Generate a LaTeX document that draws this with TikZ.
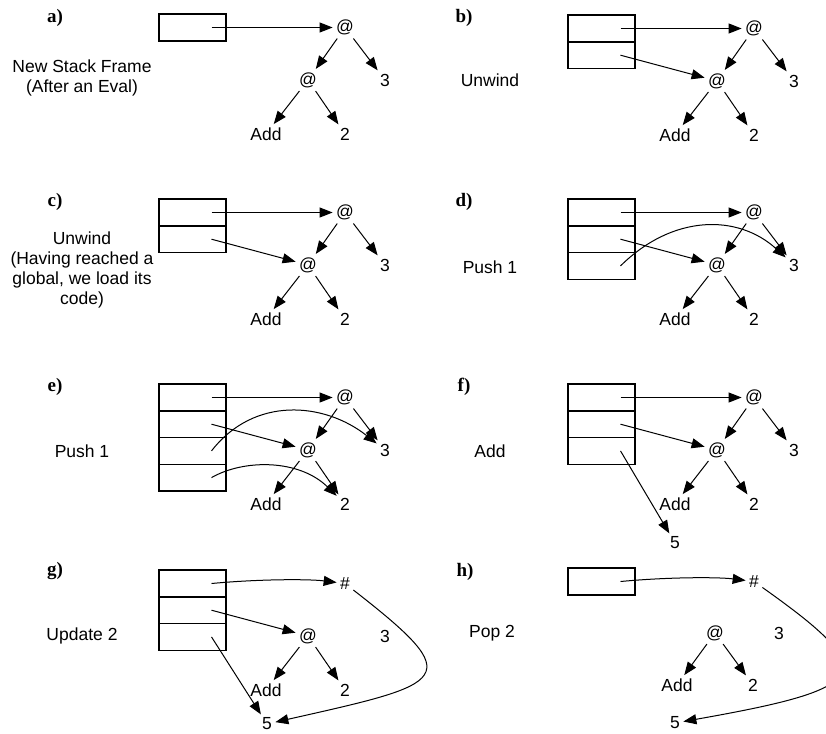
\documentclass[tikz,border=0pt]{standalone}
\usepackage{fontspec}
\setmainfont{Liberation Sans}
\newfontfamily\tagfont{Liberation Serif}
\usetikzlibrary{arrows.meta}

\begin{document}
\begin{tikzpicture}[x=1pt,y=-1pt,line width=1pt,
  >={Triangle[length=13pt,width=10pt]},
  every node/.style={font=\fontsize{17.5}{19.7}\selectfont,inner sep=3pt},
  cell/.style={draw,line width=1.5pt,minimum width=67pt,minimum height=26.7pt,inner sep=0pt},
  tag/.style={font=\tagfont\bfseries\fontsize{19}{22}\selectfont}]
\useasboundingbox (0,0) rectangle (826,733);

% a) one frame
\begin{scope}[shift={(159,14)}]
\node[tag] (a-tag) at (-104,4) {a)};
\node[align=center] (a-text) at (-77,64) {New Stack Frame\\(After an Eval)};
\node[cell] (a1) at (33.5,13.5) {};
\node (a-ap) at (186,13.5) {@};
\node (a-ap2) at (149,66) {@};
\node (a-3) at (226,66) {3};
\node (a-add) at (107,120) {Add};
\node (a-2) at (186,120) {2};
\draw[->] ([xshift=19pt]a1.center) -- (a-ap);
\draw[->] (a-ap) -- (a-ap2);
\draw[->] (a-ap) -- (a-3);
\draw[->] (a-ap2) -- (a-add);
\draw[->] (a-ap2) -- (a-2);
\end{scope}

% b) unwind
\begin{scope}[shift={(568,15)}]
\node[tag] (b-tag) at (-104,3) {b)};
\node (b-text) at (-78,65) {Unwind};
\node[cell] (b1) at (33.5,13.5) {};
\node[cell] (b2) at (33.5,40.2) {};
\node (b-ap) at (186,13.5) {@};
\node (b-ap2) at (149,66) {@};
\node (b-3) at (226,66) {3};
\node (b-add) at (107,120) {Add};
\node (b-2) at (186,120) {2};
\draw[->] ([xshift=19pt]b1.center) -- (b-ap);
\draw[->] ([xshift=19pt]b2.center) -- (b-ap2);
\draw[->] (b-ap) -- (b-ap2);
\draw[->] (b-ap) -- (b-3);
\draw[->] (b-ap2) -- (b-add);
\draw[->] (b-ap2) -- (b-2);
\end{scope}

% c) unwind, global reached
\begin{scope}[shift={(159,199)}]
\node[tag] (c-tag) at (-104,3) {c)};
\node[align=center] (c-text) at (-77,71) {Unwind\\(Having reached a\\global, we load its\\code)};
\node[cell] (c1) at (33.5,13.5) {};
\node[cell] (c2) at (33.5,40.2) {};
\node (c-ap) at (186,13.5) {@};
\node (c-ap2) at (149,66) {@};
\node (c-3) at (226,66) {3};
\node (c-add) at (107,120) {Add};
\node (c-2) at (186,120) {2};
\draw[->] ([xshift=19pt]c1.center) -- (c-ap);
\draw[->] ([xshift=19pt]c2.center) -- (c-ap2);
\draw[->] (c-ap) -- (c-ap2);
\draw[->] (c-ap) -- (c-3);
\draw[->] (c-ap2) -- (c-add);
\draw[->] (c-ap2) -- (c-2);
\end{scope}

% d) push 1
\begin{scope}[shift={(568,199)}]
\node[tag] (d-tag) at (-104,3) {d)};
\node (d-text) at (-78,68) {Push 1};
\node[cell] (d1) at (33.5,13.5) {};
\node[cell] (d2) at (33.5,40.2) {};
\node[cell] (d3) at (33.5,66.9) {};
\node (d-ap) at (186,13.5) {@};
\node (d-ap2) at (149,66) {@};
\node (d-3) at (226,66) {3};
\node (d-add) at (107,120) {Add};
\node (d-2) at (186,120) {2};
\draw[->] ([xshift=19pt]d1.center) -- (d-ap);
\draw[->] ([xshift=19pt]d2.center) -- (d-ap2);
\draw[->] ([xshift=19pt]d3.center) .. controls (105,15) and (170,15) .. (d-3);
\draw[->] (d-ap) -- (d-ap2);
\draw[->] (d-ap) -- (d-3);
\draw[->] (d-ap2) -- (d-add);
\draw[->] (d-ap2) -- (d-2);
\end{scope}

% e) push 1 again
\begin{scope}[shift={(159,384)}]
\node[tag] (e-tag) at (-104,3) {e)};
\node (e-text) at (-77,67) {Push 1};
\node[cell] (e1) at (33.5,13.5) {};
\node[cell] (e2) at (33.5,40.2) {};
\node[cell] (e3) at (33.5,66.9) {};
\node[cell] (e4) at (33.5,93.6) {};
\node (e-ap) at (186,13.5) {@};
\node (e-ap2) at (149,66) {@};
\node (e-3) at (226,66) {3};
\node (e-add) at (107,120) {Add};
\node (e-2) at (186,120) {2};
\draw[->] ([xshift=19pt]e1.center) -- (e-ap);
\draw[->] ([xshift=19pt]e2.center) -- (e-ap2);
\draw[->] ([xshift=19pt]e3.center) .. controls (95,12) and (165,18) .. (e-3);
\draw[->] ([xshift=19pt]e4.center) .. controls (85,75) and (140,75) .. (e-2);
\draw[->] (e-ap) -- (e-ap2);
\draw[->] (e-ap) -- (e-3);
\draw[->] (e-ap2) -- (e-add);
\draw[->] (e-ap2) -- (e-2);
\end{scope}

% f) add
\begin{scope}[shift={(568,384)}]
\node[tag] (f-tag) at (-104,3) {f)};
\node (f-text) at (-78,67) {Add};
\node[cell] (f1) at (33.5,13.5) {};
\node[cell] (f2) at (33.5,40.2) {};
\node[cell] (f3) at (33.5,66.9) {};
\node (f-ap) at (186,13.5) {@};
\node (f-ap2) at (149,66) {@};
\node (f-3) at (226,66) {3};
\node (f-add) at (107,120) {Add};
\node (f-2) at (186,120) {2};
\node (f-5) at (107,159) {5};
\draw[->] ([xshift=19pt]f1.center) -- (f-ap);
\draw[->] ([xshift=19pt]f2.center) -- (f-ap2);
\draw[->] ([xshift=19pt]f3.center) -- (f-5);
\draw[->] (f-ap) -- (f-ap2);
\draw[->] (f-ap) -- (f-3);
\draw[->] (f-ap2) -- (f-add);
\draw[->] (f-ap2) -- (f-2);
\end{scope}

% g) update 2
\begin{scope}[shift={(159,570)}]
\node[tag] (g-tag) at (-104,1) {g)};
\node (g-text) at (-77,66) {Update 2};
\node[cell] (g1) at (33.5,13.5) {};
\node[cell] (g2) at (33.5,40.2) {};
\node[cell] (g3) at (33.5,66.9) {};
\node (g-hash) at (186,13.5) {\#};
\node (g-ap2) at (149,66) {@};
\node (g-3) at (226,66) {3};
\node (g-add) at (107,120) {Add};
\node (g-2) at (186,120) {2};
\node (g-5) at (108,154) {5};
\draw[->] ([xshift=19pt]g1.center) .. controls (100,9) and (150,9) .. (g-hash);
\draw[->] ([xshift=19pt]g2.center) -- (g-ap2);
\draw[->] ([xshift=19pt]g3.center) -- (g-5);
\draw[->] (g-hash) .. controls (310,110) and (290,113) .. (g-5);
\draw[->] (g-ap2) -- (g-add);
\draw[->] (g-ap2) -- (g-2);
\end{scope}

% h) pop 2
\begin{scope}[shift={(568,568)}]
\node[tag] (h-tag) at (-103,4) {h)};
\node (h-text) at (-76,65) {Pop 2};
\node[cell] (h1) at (33.5,13.5) {};
\node (h-hash) at (186,13.5) {\#};
\node (h-ap2) at (147,65) {@};
\node (h-3) at (211,65) {3};
\node (h-add) at (109,117) {Add};
\node (h-2) at (185,117) {2};
\node (h-5) at (107,155) {5};
\draw[->] ([xshift=19pt]h1.center) .. controls (100,9) and (150,9) .. (h-hash);
\draw[->] (h-hash) .. controls (315,105) and (305,120) .. (h-5);
\draw[->] (h-ap2) -- (h-add);
\draw[->] (h-ap2) -- (h-2);
\end{scope}
\end{tikzpicture}
\end{document}
